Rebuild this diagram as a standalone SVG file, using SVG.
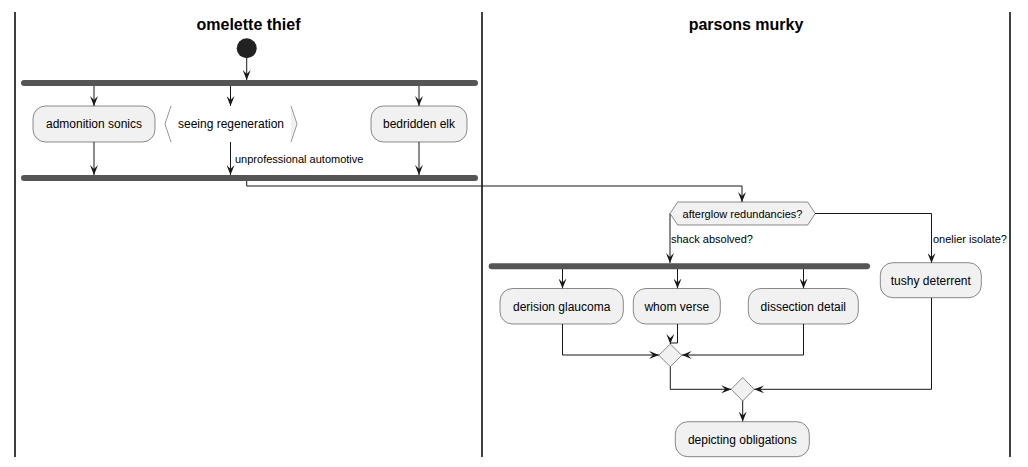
<svg xmlns="http://www.w3.org/2000/svg" width="1028" height="467" viewBox="0 0 1028 467">
<style>
.lane{stroke:#000;stroke-width:1.5;fill:none}
.title{font-family:"Liberation Sans",Arial,sans-serif;font-size:16px;font-weight:bold;fill:#000;text-anchor:middle}
.box{fill:#f1f1f1;stroke:#181818;stroke-width:0.5}
.bar{fill:#555555;stroke:none}
.t{font-family:"Liberation Sans",Arial,sans-serif;font-size:12px;fill:#000;text-anchor:middle}
.lbl{font-family:"Liberation Sans",Arial,sans-serif;font-size:11px;fill:#000}
.c{fill:none;stroke:#181818;stroke-width:1}
</style>
<defs>
<marker id="arr" viewBox="0 0 10 8" refX="10" refY="4" markerWidth="10" markerHeight="8" orient="auto" markerUnits="userSpaceOnUse">
<path d="M0,0 L10,4 L0,8 L4,4 Z" fill="#181818"/>
</marker>
</defs>
<rect width="1028" height="467" fill="#fff"/>
<g id="lanes">
<line class="lane" x1="15" y1="12" x2="15" y2="457"/>
<line class="lane" x1="482" y1="12" x2="482" y2="457"/>
<line class="lane" x1="1010" y1="12" x2="1010" y2="457"/>
<text class="title" x="248.5" y="30">omelette thief</text>
<text class="title" x="746" y="30">parsons murky</text>
</g>
<g id="connectors">
<line class="c" x1="246.7" y1="58" x2="246.7" y2="80" marker-end="url(#arr)"/>
<line class="c" x1="94" y1="86" x2="94" y2="106" marker-end="url(#arr)"/>
<line class="c" x1="230.5" y1="86" x2="230.5" y2="106" marker-end="url(#arr)"/>
<line class="c" x1="419" y1="86" x2="419" y2="106" marker-end="url(#arr)"/>
<line class="c" x1="94" y1="142" x2="94" y2="175" marker-end="url(#arr)"/>
<line class="c" x1="230.5" y1="142" x2="230.5" y2="175" marker-end="url(#arr)"/>
<line class="c" x1="419" y1="142" x2="419" y2="175" marker-end="url(#arr)"/>
<text class="lbl" x="235" y="163">unprofessional automotive</text>
<polyline class="c" points="246.7,181 246.7,186 742,186 742,202" marker-end="url(#arr)"/>
<polyline class="c" points="670,213.5 670,263" marker-end="url(#arr)"/>
<text class="lbl" x="671" y="243">shack absolved?</text>
<polyline class="c" points="815,213.5 931.5,213.5 931.5,263" marker-end="url(#arr)"/>
<text class="lbl" x="933" y="243">onelier isolate?</text>
<line class="c" x1="562.5" y1="269" x2="562.5" y2="288.5" marker-end="url(#arr)"/>
<line class="c" x1="677.5" y1="269" x2="677.5" y2="288.5" marker-end="url(#arr)"/>
<line class="c" x1="803.5" y1="269" x2="803.5" y2="288.5" marker-end="url(#arr)"/>
<polyline class="c" points="562.5,324 562.5,355 659,355" marker-end="url(#arr)"/>
<polyline class="c" points="677.5,324 677.5,343 670.3,343 670.3,344" marker-end="url(#arr)"/>
<polyline class="c" points="803.5,324 803.5,355 681.7,355" marker-end="url(#arr)"/>
<polyline class="c" points="670.3,366.5 670.3,389.3 731.2,389.3" marker-end="url(#arr)"/>
<polyline class="c" points="931.5,298 931.5,389.3 754.2,389.3" marker-end="url(#arr)"/>
<line class="c" x1="742.7" y1="401" x2="742.7" y2="421.5" marker-end="url(#arr)"/>
</g>
<g id="start"><circle cx="246.7" cy="48.3" r="10" fill="#222"/></g>
<g id="fork1"><rect class="bar" x="21" y="80" width="457" height="6" rx="3"/></g>
<g id="admonition-sonics"><rect class="box" x="33" y="106" width="122" height="36" rx="12.5"/><text class="t" x="94" y="128">admonition sonics</text></g>
<g id="seeing-regeneration">
<polyline points="171,106 165,124 171,142" fill="none" stroke="#999" stroke-width="1"/>
<polyline points="291,106 297,124 291,142" fill="#f1f1f1" stroke="#999" stroke-width="1"/>
<text class="t" x="231" y="128">seeing regeneration</text>
</g>
<g id="bedridden-elk"><rect class="box" x="371" y="106" width="96" height="36" rx="12.5"/><text class="t" x="419" y="128">bedridden elk</text></g>
<g id="join1"><rect class="bar" x="21" y="175" width="457" height="6" rx="3"/></g>
<g id="afterglow"><polygon class="box" points="670,213.5 677.7,202 807.7,202 815.3,213.5 807.7,225 677.7,225"/><text class="lbl" x="742.5" y="217.5" text-anchor="middle">afterglow redundancies?</text></g>
<g id="fork2"><rect class="bar" x="488.7" y="263.3" width="381.3" height="6" rx="3"/></g>
<g id="derision-glaucoma"><rect class="box" x="500" y="288.5" width="123.3" height="35.5" rx="12.5"/><text class="t" x="561.7" y="310.5">derision glaucoma</text></g>
<g id="whom-verse"><rect class="box" x="633.3" y="288.5" width="87" height="35.5" rx="12.5"/><text class="t" x="676.8" y="310.5">whom verse</text></g>
<g id="dissection-detail"><rect class="box" x="748.3" y="288.5" width="110" height="35.5" rx="12.5"/><text class="t" x="803.3" y="310.5">dissection detail</text></g>
<g id="tushy-deterrent"><rect class="box" x="880.3" y="262.7" width="101" height="35" rx="12.5"/><text class="t" x="930.8" y="284.5">tushy deterrent</text></g>
<g id="merge1"><polygon class="box" points="670.3,344 681.8,355.3 670.3,366.7 658.8,355.3"/></g>
<g id="merge2"><polygon class="box" points="742.7,377.5 754.2,389.3 742.7,401 731.2,389.3"/></g>
<g id="depicting-obligations"><rect class="box" x="675.3" y="421.7" width="134" height="35" rx="12.5"/><text class="t" x="742.3" y="443.5">depicting obligations</text></g>
</svg>
